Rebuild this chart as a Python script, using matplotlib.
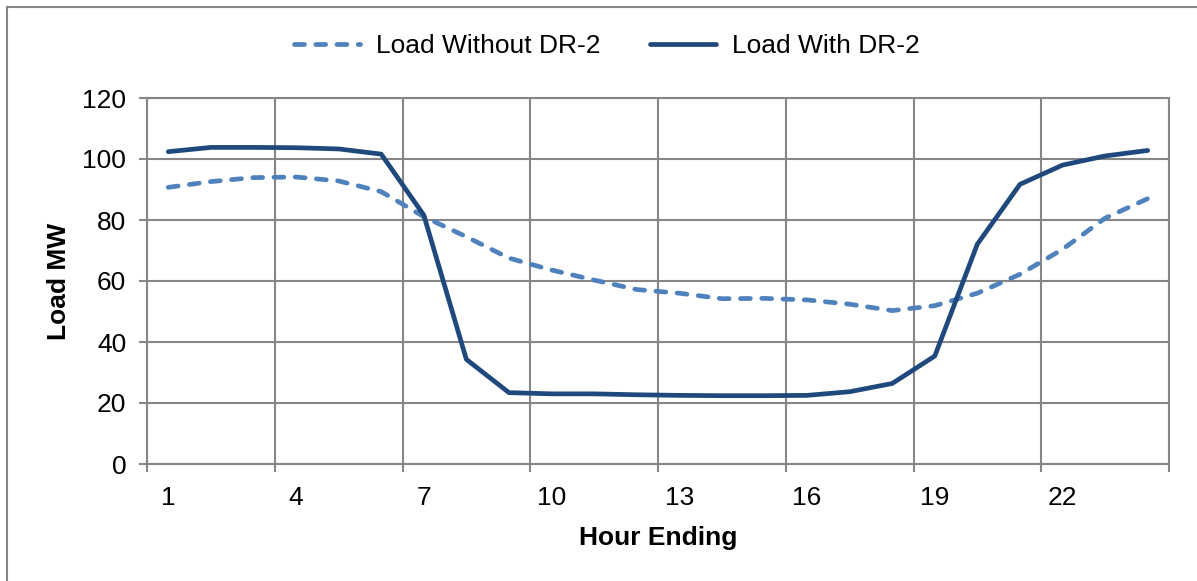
import numpy as np
import matplotlib
matplotlib.use('Agg')
import matplotlib.pyplot as plt
from matplotlib.patches import Rectangle

# Daten
hours = list(range(1, 25))
load_without_dr = [90.7, 92.6, 93.9, 94.1, 92.8, 89.3, 81.1, 74.5, 67.5, 63.6, 60.3, 57.2,
                   56.0, 54.2, 54.3, 53.8, 52.4, 50.3, 51.9, 56.0, 62.2, 70.4, 80.6, 87.0]
load_with_dr = [102.4, 103.8, 103.8, 103.7, 103.3, 101.6, 81.6, 34.3, 23.4, 23.0, 23.0, 22.7,
                22.5, 22.4, 22.4, 22.5, 23.7, 26.4, 35.4, 72.1, 91.7, 98.0, 101.0, 102.8]
x_tick_labels = ['1', '4', '7', '10', '13', '16', '19', '22']

plt.rcParams['font.family'] = ['Liberation Sans', 'DejaVu Sans']

grid_col = '#868686'
fs = 19

fig = plt.figure(figsize=(11.97, 5.81), dpi=100)
ax = fig.add_axes([147 / 1197, 1 - 464 / 581, (1169 - 147) / 1197, (464 - 98) / 581])

# Rahmen um die ganze Grafik
fig.patches.append(Rectangle((7 / 1197, -0.1), 1.2, 1 - 7 / 581 + 0.1,
                             transform=fig.transFigure, fill=False,
                             edgecolor=grid_col, linewidth=1.5))

ax.plot(hours, load_without_dr, color='#4F81BD', linewidth=3.4,
        dashes=(2.1, 2.4), dash_capstyle='round', label='Load Without DR-2')
ax.plot(hours, load_with_dr, color='#1F497D', linewidth=3.4,
        solid_capstyle='round', label='Load With DR-2')

ax.set_xlim(0.5, 24.5)
ax.set_ylim(0, 120)
ax.set_yticks(np.arange(0, 121, 20))
ax.set_xticks(hours[::3])
ax.set_xticklabels(x_tick_labels)
ax.set_xticks(np.arange(0.5, 24.6, 3), minor=True)

ax.grid(True, which='minor', axis='x', color=grid_col, linewidth=1.5)
ax.grid(True, which='major', axis='y', color=grid_col, linewidth=1.5)
ax.set_axisbelow(True)

for s in ax.spines.values():
    s.set_color(grid_col)
    s.set_linewidth(1.5)

ax.tick_params(axis='x', which='major', length=0, labelsize=fs, pad=16)
ax.tick_params(axis='x', which='minor', length=6, width=1.5, color=grid_col)
ax.tick_params(axis='y', length=6, width=1.5, color=grid_col, labelsize=fs, pad=9)

ax.set_xlabel('Hour Ending', fontsize=fs, fontweight='bold', labelpad=11)
ax.set_ylabel('Load MW', fontsize=fs, fontweight='bold', labelpad=8)

fig.legend(loc='center', bbox_to_anchor=(0.507, 1 - 46 / 581), ncol=2, frameon=False,
           fontsize=fs, handlelength=2.5, handletextpad=0.6, columnspacing=1.9)

fig.savefig('out.png', dpi=100)
